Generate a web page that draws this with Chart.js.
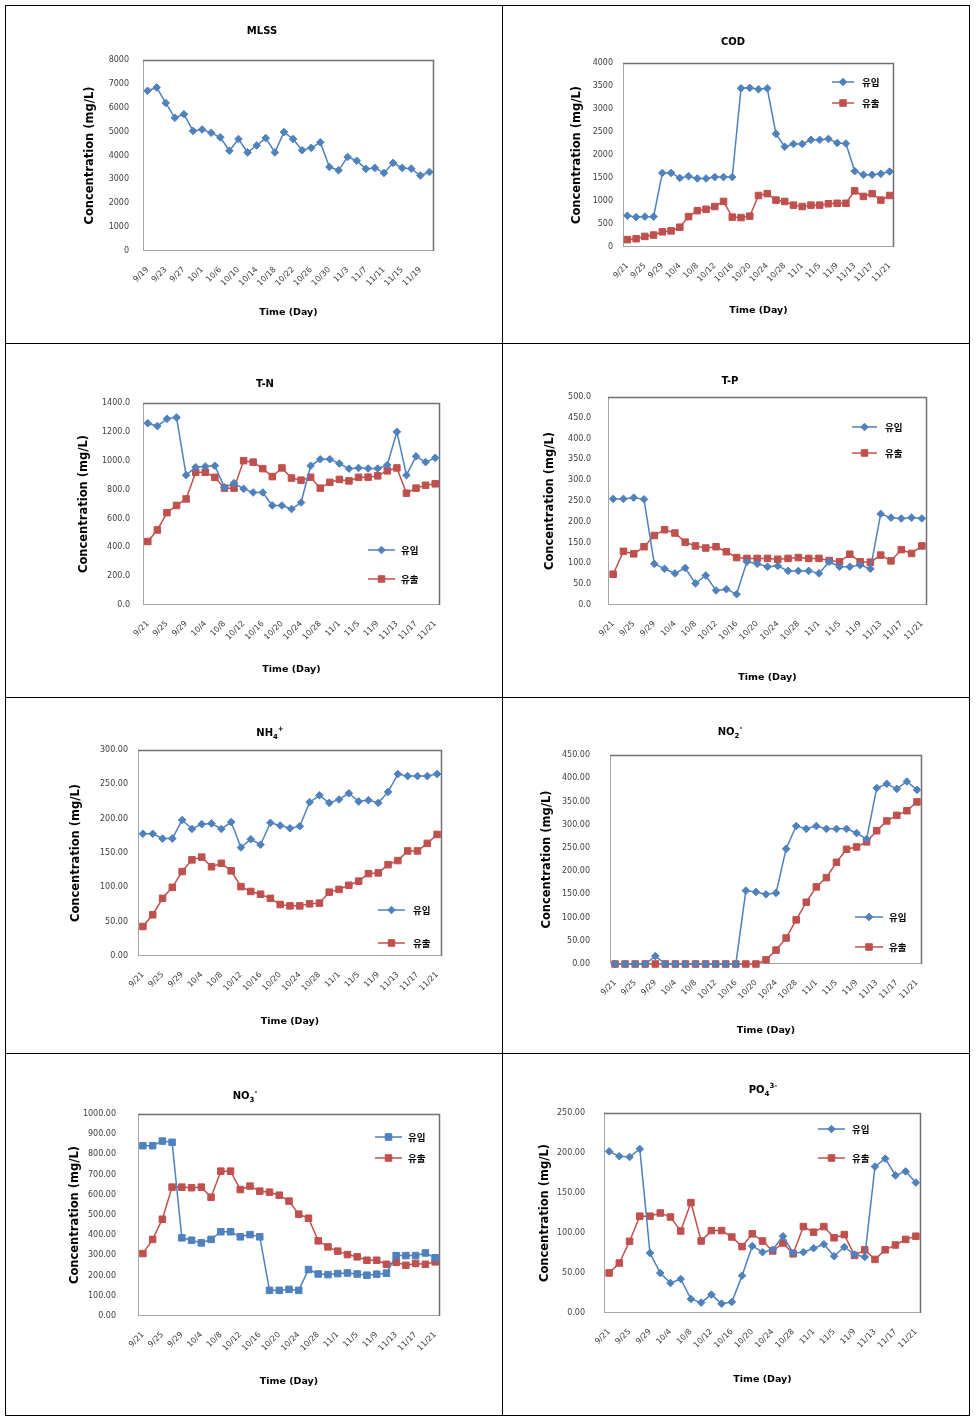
<!DOCTYPE html>
<html><head><meta charset="utf-8">
<script src="https://cdn.jsdelivr.net/npm/chart.js@4.4.0/dist/chart.umd.min.js"></script>
<style>
html,body{margin:0;padding:0;background:#fff;}
#page{position:relative;width:976px;height:1423px;overflow:hidden;background:#fff;}
.ln{position:absolute;background:#000;}
canvas{position:absolute;}
</style></head><body><div id="page"></div>
<script>
// ---------- data ----------
const dates = ['9/21','9/23','9/25','9/27','9/29','10/1','10/4','10/6','10/8','10/10','10/12','10/14','10/16','10/18','10/20','10/22','10/24','10/26','10/28','10/30','11/1','11/3','11/5','11/7','11/9','11/11','11/13','11/15','11/17','11/19','11/21'];
const datesMLSS = ['9/19','9/21','9/23','9/25','9/27','9/29','10/1','10/4','10/6','10/8','10/10','10/12','10/14','10/16','10/18','10/20','10/22','10/24','10/26','10/28','10/30','11/1','11/3','11/5','11/7','11/9','11/11','11/13','11/15','11/17','11/19','11/21'];
const seriesNames = ['유입','유출'];

const mlss = [6710,6850,6200,5580,5730,5030,5090,4950,4760,4200,4690,4130,4420,4730,4130,4980,4690,4220,4320,4550,3520,3380,3940,3780,3440,3480,3270,3690,3480,3450,3160,3310];

const codIn  = [680,650,660,660,1610,1610,1500,1540,1490,1490,1520,1520,1520,3450,3460,3430,3450,2460,2180,2240,2240,2330,2330,2350,2260,2250,1650,1570,1570,1590,1640];
const codOut = [160,180,230,260,330,350,430,660,790,820,880,990,650,640,670,1120,1160,1020,990,910,880,910,910,940,950,950,1220,1100,1160,1020,1120];

const tnIn  = [1260,1240,1290,1300,900,955,960,965,815,845,805,780,780,690,690,665,710,965,1010,1010,980,945,950,946,946,970,1200,900,1030,990,1020];
const tnOut = [440,520,640,690,735,920,920,885,810,810,1000,990,945,890,950,880,865,885,810,850,870,860,885,886,895,930,950,775,810,830,840];

const tpIn  = [255,255,258,254,99,87,76,89,52,71,35,38,26,104,99,92,94,82,82,82,76,104,92,92,96,87,219,210,208,210,208];
const tpOut = [74,129,123,140,167,181,173,151,142,137,140,128,114,112,112,112,110,112,114,112,112,107,104,122,104,103,120,106,133,124,142];

const nh4In  = [178,178,171,171,198,185,192,193,185,195,158,170,162,194,190,186,189,224,234,223,228,237,225,227,223,239,265,262,262,262,265];
const nh4Out = [43,60,84,100,123,140,144,130,135,124,101,94,90,84,75,73,73,76,77,93,97,103,109,120,121,133,139,153,153,164,177];

const no2In  = [0,0,0,0,17,0,0,0,0,0,0,0,0,158,155,150,153,248,297,291,297,291,291,291,282,269,379,388,377,393,375];
const no2Out = [0,0,0,0,0,0,0,0,0,0,0,0,0,0,0,9,30,56,95,133,166,186,219,247,252,263,287,308,320,330,349];

const no3In  = [843,843,866,860,387,375,362,379,417,417,392,403,392,127,127,132,127,230,208,205,210,213,208,202,207,212,299,299,299,312,288];
const no3Out = [309,379,479,638,638,635,638,588,717,717,626,643,618,613,598,569,504,484,372,342,321,304,293,276,276,256,266,251,260,256,268];

const po4In  = [202,196,195,205,75,50,37.5,42.5,17.5,13,23,11.7,13.8,46.7,83.8,76,79,96,75,76,81,86,71,82.5,73,70,183,193,172,177,163];
const po4Out = [50,62.5,89.6,121,121,125,120,102.5,138,90,103,103,95,83,99,90,77.5,87.5,74,108,101,108,94,98,72,79,67,79,85,92,96];

const yTicksMLSS = [0,1000,2000,3000,4000,5000,6000,7000,8000];
const yTicksCOD  = [0,500,1000,1500,2000,2500,3000,3500,4000];
const yTicksTN   = [0,200,400,600,800,1000,1200,1400];
const yTicksTP   = [0,50,100,150,200,250,300,350,400,450,500];
const yTicksNH4  = [0,50,100,150,200,250,300];
const yTicksNO2  = [0,50,100,150,200,250,300,350,400,450];
const yTicksNO3  = [0,100,200,300,400,500,600,700,800,900,1000];
const yTicksPO4  = [0,50,100,150,200,250];

// ---------- styling / layout ----------
const FONT = "'DejaVu Sans', sans-serif";
const KFONT = "'Noto Sans CJK KR', sans-serif";
const BLUE = '#4F81BD', RED = '#C0504D';
const page = document.getElementById('page');

function hline(x,y,w){const d=document.createElement('div');d.className='ln';d.style.left=x+'px';d.style.top=y+'px';d.style.width=w+'px';d.style.height='1px';page.appendChild(d);}
function vline(x,y,h){const d=document.createElement('div');d.className='ln';d.style.left=x+'px';d.style.top=y+'px';d.style.width='1px';d.style.height=h+'px';page.appendChild(d);}
[5,343,697,1053,1415].forEach(y=>hline(5,y,965));
[5,502,969].forEach(x=>vline(x,5,1411));

function style(color, shape){
  return {borderColor:color, backgroundColor:color, pointBackgroundColor:color, pointBorderColor:color,
    borderWidth:1.5, pointStyle:shape, pointRadius: shape==='rect'?4.6:3.8, pointBorderWidth:1,
    tension:0, clip:false};
}

function framePlugin(){
  return {id:'frame', beforeDatasetsDraw(chart){
    const {ctx, chartArea:a} = chart;
    ctx.save();
    ctx.strokeStyle='#a6a6a6'; ctx.lineWidth=1;
    ctx.strokeRect(a.left+0.5, a.top+0.5, a.right-a.left-1, a.bottom-a.top-1);
    ctx.strokeStyle='#707070'; ctx.lineWidth=1.5;
    ctx.beginPath(); ctx.moveTo(a.left, a.top+0.5); ctx.lineTo(a.right-0.5, a.top+0.5); ctx.lineTo(a.right-0.5, a.bottom); ctx.stroke();
    ctx.restore();
  }};
}
function titlePlugin(t, cx, cy){
  return {id:'cellTitle', afterDraw(chart){
    const ctx = chart.ctx, size = t.size;
    const segs = t.parts.map(p=>({t:p[0], k:p[1], f: p[1] ? size*0.7 : size}));
    ctx.save();
    let total = 0;
    segs.forEach(s=>{ctx.font=`bold ${s.f}px ${FONT}`; s.w=ctx.measureText(s.t).width; total+=s.w;});
    let x = t.x - cx - total/2;
    const base = t.y - cy + size*0.36;
    ctx.fillStyle='#000'; ctx.textBaseline='alphabetic'; ctx.textAlign='left';
    segs.forEach(s=>{ctx.font=`bold ${s.f}px ${FONT}`;
      const dy = s.k==='sub' ? size*0.3 : (s.k==='sup' ? -size*0.45 : 0);
      ctx.fillText(s.t, x, base+dy); x+=s.w;});
    ctx.restore();
  }};
}
function legendPlugin(lg, cx, cy){
  return {id:'inLegend', afterDraw(chart){
    if(!lg) return;
    const ctx = chart.ctx;
    chart.data.datasets.forEach((ds,i)=>{
      const y = lg.ys[i]-cy, x1 = lg.x1-cx, x2 = lg.x2-cx;
      ctx.save();
      ctx.strokeStyle=ds.borderColor; ctx.lineWidth=ds.borderWidth;
      ctx.beginPath(); ctx.moveTo(x1,y); ctx.lineTo(x2,y); ctx.stroke();
      ctx.fillStyle=ds.pointBackgroundColor; ctx.strokeStyle=ds.pointBorderColor; ctx.lineWidth=ds.pointBorderWidth;
      Chart.helpers.drawPoint(ctx,{pointStyle:ds.pointStyle, radius:ds.pointRadius, borderWidth:ds.pointBorderWidth, rotation:0},(x1+x2)/2,y);
      ctx.fillStyle='#000'; ctx.font=`bold 9.5px ${KFONT}`; ctx.textBaseline='middle'; ctx.textAlign='left';
      ctx.fillText(ds.label, lg.tx-cx, y);
      ctx.restore();
    });
  }};
}

function makeChart(c){
  const [cx,cy,cw,ch] = c.cell;
  const cv = document.createElement('canvas');
  cv.width=cw; cv.height=ch; cv.style.left=cx+'px'; cv.style.top=cy+'px'; cv.style.width=cw+'px'; cv.style.height=ch+'px';
  page.appendChild(cv);
  const pl=c.plot[0]-cx, pt=c.plot[1]-cy, pr=c.plot[2]-cx, pb=c.plot[3]-cy;
  const yTitleSize=11.5, xTitleSize=9.5;
  const yLh = yTitleSize*1.2, xLh = xTitleSize*1.2;
  const yt = c.yTicks;
  new Chart(cv,{
    type:'line',
    data:{labels:c.labels, datasets:c.datasets},
    options:{
      responsive:false, animation:false, devicePixelRatio:1,
      layout:{padding:{left:0, top:pt, right:cw-pr, bottom:0}},
      plugins:{legend:{display:false}, tooltip:{enabled:false}, title:{display:false}},
      scales:{
        x:{type:'category', offset:true,
          grid:{display:false, drawTicks:false}, border:{display:false},
          ticks:{autoSkip:false, minRotation:45, maxRotation:45, padding:c.xPad||14, color:'#404040',
            font:{family:FONT, size:8},
            callback(v,i){ return i%2===0 ? this.getLabelForValue(v) : ''; }},
          title:{display:true, text:'Time (Day)', color:'#000', font:{family:FONT, size:xTitleSize, weight:'bold'},
            padding:{top:0, bottom: ch-(c.xTitleY-cy)-xLh/2}},
          afterFit(s){ s.height = ch-pb; }
        },
        y:{min:0, max:yt[yt.length-1],
          afterBuildTicks(s){ s.ticks = yt.map(v=>({value:v})); },
          grid:{display:false, drawTicks:false}, border:{display:false},
          ticks:{padding:c.yPad, color:'#404040', font:{family:FONT, size:8},
            callback:(v)=>Number(v).toFixed(c.dec)},
          title:{display:true, text:'Concentration (mg/L)', color:'#000', font:{family:FONT, size:yTitleSize, weight:'bold'},
            padding:{top:(c.yTitleX-cx)-yLh/2, bottom:0}},
          afterFit(s){ s.width = pl; }
        }
      }
    },
    plugins:[framePlugin(), titlePlugin(c.title,cx,cy), legendPlugin(c.legend,cx,cy)]
  });
}

function two(a,b,shapeA){
  return [Object.assign({label:seriesNames[0], data:a}, style(BLUE, shapeA||'rectRot')),
          Object.assign({label:seriesNames[1], data:b}, style(RED,'rect'))];
}

const charts = [
  {cell:[6,6,495,336], plot:[143,60,434,251], title:{parts:[['MLSS','']], x:262, y:30, size:10},
   yTitleX:90, xTitleY:313, yPad:14, labels:datesMLSS, yTicks:yTicksMLSS, dec:0,
   datasets:[Object.assign({label:'MLSS', data:mlss}, style(BLUE,'rectRot'))], legend:null},
  {cell:[503,6,465,336], plot:[623,63,894,247], title:{parts:[['COD','']], x:733, y:41, size:10},
   yTitleX:577, xTitleY:311, yPad:10, labels:dates, yTicks:yTicksCOD, dec:0,
   datasets:two(codIn,codOut), legend:{x1:832,x2:854,tx:862,ys:[82,103]}},
  {cell:[6,344,495,352], plot:[143,403,440,605], title:{parts:[['T-N','']], x:265, y:383, size:10},
   yTitleX:84, xTitleY:670, yPad:13, labels:dates, yTicks:yTicksTN, dec:1,
   datasets:two(tnIn,tnOut), legend:{x1:368,x2:395,tx:401,ys:[550,579]}},
  {cell:[503,344,465,352], plot:[608,397,927,605], title:{parts:[['T-P','']], x:730, y:380, size:10},
   yTitleX:550, xTitleY:678, yPad:17, labels:dates, yTicks:yTicksTP, dec:1,
   datasets:two(tpIn,tpOut), legend:{x1:852,x2:877,tx:885,ys:[427,453]}},
  {cell:[6,698,495,354], plot:[138,750,442,956], title:{parts:[['NH',''],['4','sub'],['+','sup']], x:270, y:732, size:10},
   yTitleX:76, xTitleY:1022, yPad:10, labels:dates, yTicks:yTicksNH4, dec:2,
   datasets:two(nh4In,nh4Out), legend:{x1:378,x2:405,tx:413,ys:[910,943]}},
  {cell:[503,698,465,354], plot:[610,755,922,964], title:{parts:[['NO',''],['2','sub'],['-','sup']], x:730, y:731, size:10},
   yTitleX:547, xTitleY:1031, yPad:20, labels:dates, yTicks:yTicksNO2, dec:2,
   datasets:two(no2In,no2Out), legend:{x1:855,x2:883,tx:889,ys:[917,947]}},
  {cell:[6,1054,495,360], plot:[138,1114,440,1316], title:{parts:[['NO',''],['3','sub'],['-','sup']], x:245, y:1095, size:10},
   yTitleX:75, xTitleY:1382, yPad:22, labels:dates, yTicks:yTicksNO3, dec:2,
   datasets:two(no3In,no3Out,'rect'), legend:{x1:375,x2:402,tx:408,ys:[1137,1158]}},
  {cell:[503,1054,465,360], plot:[604,1113,921,1313], title:{parts:[['PO',''],['4','sub'],['3-','sup']], x:763, y:1089, size:10},
   yTitleX:545, xTitleY:1380, yPad:19, labels:dates, yTicks:yTicksPO4, dec:2,
   datasets:two(po4In,po4Out), legend:{x1:818,x2:845,tx:852,ys:[1129,1158]}}
];
charts.forEach(makeChart);
</script></body></html>
